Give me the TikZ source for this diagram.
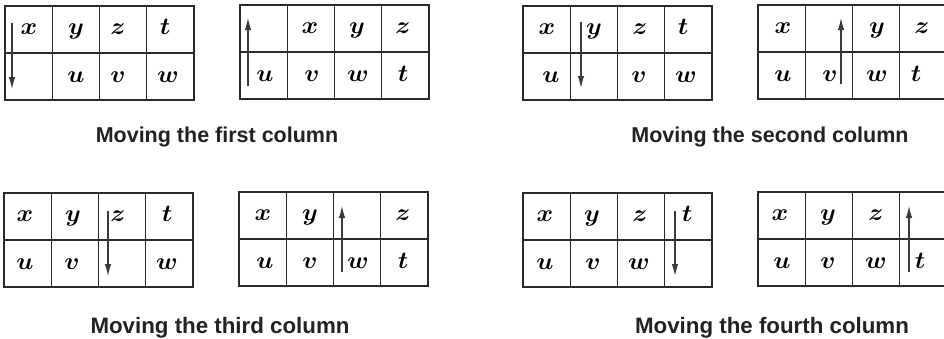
\RequirePackage{fix-cm}
\documentclass[tikz,border=0pt]{standalone}
\usepackage{amsmath,amsbsy,graphicx}
\usepackage{fontspec}
\setmainfont{Liberation Sans}
\usetikzlibrary{arrows.meta}
\definecolor{capcol}{HTML}{222222}
\definecolor{linecol}{HTML}{2A2A2A}
\definecolor{arrcol}{HTML}{3A3A3A}
\tikzset{
  gridline/.style={draw=linecol, line width=1.2pt},
  letter/.style={anchor=base, inner sep=0pt, font=\fontsize{24}{28}\selectfont},
  movearrow/.style={draw=arrcol, line width=1.1pt, -{Latex[length=12pt,width=6.5pt]}},
  caption/.style={anchor=base, inner sep=0pt, text=capcol, font=\fontsize{21.5}{25}\selectfont\bfseries},
  caption2/.style={caption, font=\fontsize{22.3}{26}\selectfont\bfseries},
}
\newcommand{\tablegrid}[2]{%
  \draw[gridline] (#1,#2) rectangle ++(189,94);
  \draw[gridline] (#1,#2+47) -- ++(189,0);
  \foreach \k in {1,2,3} \draw[gridline] ({#1+47.25*\k},#2) -- ++(0,94);
}
\newcommand{\lt}[4]{\node[letter] (#1) at (#2,#3) {\scalebox{1.05}[1]{$\boldsymbol{#4}$}};}
\begin{document}
\begin{tikzpicture}[x=1pt,y=-1pt]
\useasboundingbox (0,0) rectangle (944,338);
\clip (0,0) rectangle (944,338);
% ---- grids
\tablegrid{5}{6}
\tablegrid{240}{5}
\tablegrid{523}{6}
\tablegrid{758}{5}
\tablegrid{4}{193}
\tablegrid{239}{192}
\tablegrid{523}{193}
\tablegrid{758}{192}
% ---- grid 1
\lt{a1x}{29}{34.5}{x} \lt{a1y}{76}{34.5}{y} \lt{a1z}{118}{34.5}{z} \lt{a1t}{165}{34.5}{t}
\lt{a1u}{76}{82}{u} \lt{a1v}{118}{82}{v} \lt{a1w}{168}{82}{w}
\coordinate (a1s) at (12,23); \coordinate (a1e) at (12,89);
\draw[movearrow] (a1s) -- (a1e);
% ---- grid 2
\lt{a2x}{310}{33.5}{x} \lt{a2y}{357}{33.5}{y} \lt{a2z}{403}{33.5}{z}
\lt{a2u}{265}{81}{u} \lt{a2v}{312}{81}{v} \lt{a2w}{358}{81}{w} \lt{a2t}{403}{81}{t}
\coordinate (a2s) at (248,86); \coordinate (a2e) at (248,18);
\draw[movearrow] (a2s) -- (a2e);
% ---- grid 3
\lt{a3x}{547}{34.5}{x} \lt{a3y}{594}{34.5}{y} \lt{a3z}{640}{34.5}{z} \lt{a3t}{683}{34.5}{t}
\lt{a3u}{551}{82}{u} \lt{a3v}{639}{82}{v} \lt{a3w}{686}{82}{w}
\coordinate (a3s) at (581,22); \coordinate (a3e) at (581,88);
\draw[movearrow] (a3s) -- (a3e);
% ---- grid 4
\lt{a4x}{783}{33.5}{x} \lt{a4y}{877}{33.5}{y} \lt{a4z}{922}{33.5}{z}
\lt{a4u}{783}{81}{u} \lt{a4v}{830}{81}{v} \lt{a4w}{877}{81}{w} \lt{a4t}{916}{81}{t}
\coordinate (a4s) at (841,84); \coordinate (a4e) at (841,18);
\draw[movearrow] (a4s) -- (a4e);
% ---- grid 5
\lt{b1x}{25}{221.5}{x} \lt{b1y}{73}{221.5}{y} \lt{b1z}{118}{221.5}{z} \lt{b1t}{167}{221.5}{t}
\lt{b1u}{25}{269}{u} \lt{b1v}{72}{269}{v} \lt{b1w}{167}{269}{w}
\coordinate (b1s) at (108,211); \coordinate (b1e) at (108,276);
\draw[movearrow] (b1s) -- (b1e);
% ---- grid 6
\lt{b2x}{263}{220.5}{x} \lt{b2y}{310}{220.5}{y} \lt{b2z}{403}{220.5}{z}
\lt{b2u}{265}{268}{u} \lt{b2v}{310}{268}{v} \lt{b2w}{358}{268}{w} \lt{b2t}{403}{268}{t}
\coordinate (b2s) at (342,272); \coordinate (b2e) at (342,206);
\draw[movearrow] (b2s) -- (b2e);
% ---- grid 7
\lt{b3x}{545}{221.5}{x} \lt{b3y}{592}{221.5}{y} \lt{b3z}{640}{221.5}{z} \lt{b3t}{687}{221.5}{t}
\lt{b3u}{545}{269}{u} \lt{b3v}{593}{269}{v} \lt{b3w}{639}{269}{w}
\coordinate (b3s) at (675,211); \coordinate (b3e) at (675,276);
\draw[movearrow] (b3s) -- (b3e);
% ---- grid 8
\lt{b4x}{780}{220.5}{x} \lt{b4y}{828}{220.5}{y} \lt{b4z}{876}{220.5}{z}
\lt{b4u}{782}{268}{u} \lt{b4v}{828}{268}{v} \lt{b4w}{876}{268}{w} \lt{b4t}{920}{268}{t}
\coordinate (b4s) at (909,272); \coordinate (b4e) at (909,206);
\draw[movearrow] (b4s) -- (b4e);
% ---- captions
\node[caption] (c1) at (217,142) {Moving the first column};
\node[caption] (c2) at (770,142) {Moving the second column};
\node[caption2] (c3) at (220,333) {Moving the third column};
\node[caption2] (c4) at (772,333) {Moving the fourth column};
\end{tikzpicture}
\end{document}
